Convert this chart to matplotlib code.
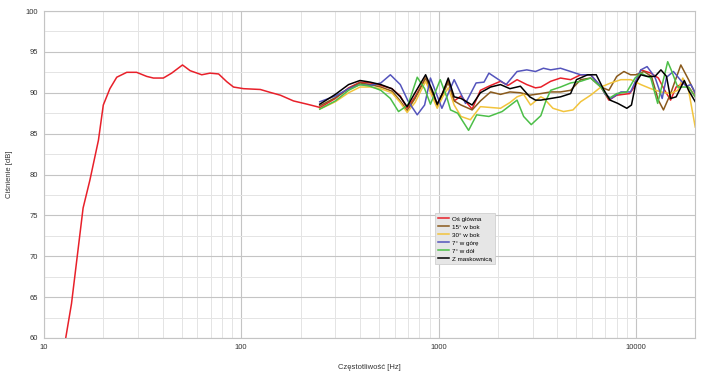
import matplotlib
matplotlib.use("Agg")
from matplotlib import pyplot as plt
from matplotlib.ticker import FixedLocator, NullFormatter
import numpy as np

# os glowna (red), full range
f_red = [12.9, 13.8, 15.8, 17.1, 18.9, 20.0, 21.6, 23.4, 26.3, 29.5, 33.2, 35.9, 40.3, 44.4,
         50.4, 55.1, 63.1, 69.5, 76.8, 84.5, 91.4, 102.8, 125, 140, 158, 184, 216, 251,
         300, 350, 400, 450, 510, 580, 640, 693, 760, 860, 930, 985, 1050, 1120, 1200, 1300,
         1480, 1630, 1800, 2060, 2250, 2500, 2800, 3100, 3300, 3700, 4150, 4670, 5250, 5900,
         6650, 7300, 8000, 9300, 10000, 10600, 11920, 13000, 14000, 15000, 16000, 17500,
         18800, 20000]
db_red = [60, 64.2, 75.9, 79.3, 84.2, 88.5, 90.5, 91.9, 92.5, 92.5, 92.0, 91.8, 91.8, 92.4,
          93.4, 92.7, 92.2, 92.4, 92.3, 91.35, 90.7, 90.5, 90.4, 90.05, 89.7, 89.0, 88.6, 88.2,
          89.3, 90.6, 91.3, 91.2, 90.9, 90.5, 89.6, 88.1, 89.5, 91.8, 90.0, 88.6, 90.0, 91.5,
          89.0, 89.6, 88.0, 90.3, 90.8, 91.4, 90.9, 91.6, 91.0, 90.6, 90.7, 91.4, 91.8, 91.6,
          92.2, 92.2, 90.7, 89.1, 89.7, 89.9, 91.0, 92.8, 92.4, 91.8, 90.3, 89.1, 90.7, 91.2,
          90.5, 89.5]

# 15 deg w bok (brown)
f_brown = [250, 300, 350, 400, 450, 510, 580, 640, 693, 760, 860, 930, 985, 1050, 1120, 1200,
           1300, 1480, 1630, 1835, 2060, 2300, 2600, 2900, 3300, 3700, 4150, 4670, 5250, 5900,
           6650, 7300, 8000, 8700, 9400, 10000, 11000, 12000, 13000, 13800, 15000, 16900,
           18500, 20000]
db_brown = [88.4, 89.4, 90.5, 91.2, 91.0, 90.7, 90.2, 89.0, 87.8, 89.3, 91.8, 90.0, 88.3, 89.8,
            91.3, 89.0, 88.5, 87.9, 89.0, 90.1, 89.8, 90.1, 90.0, 89.7, 89.9, 90.1, 90.1, 90.3,
            91.6, 91.8, 90.7, 90.3, 92.0, 92.6, 92.2, 92.2, 92.6, 92.0, 89.1, 87.9, 89.9, 93.4,
            91.6, 89.9]

# 30 deg w bok (yellow)
f_yellow = [250, 300, 350, 400, 450, 510, 580, 640, 693, 760, 860, 930, 985, 1050, 1120, 1200,
            1300, 1450, 1630, 2060, 2300, 2500, 2700, 2927, 3300, 3420, 3800, 4300, 4800, 5250,
            5900, 6650, 7467, 8400, 9440, 10600, 11900, 13400, 15000, 16300, 17300, 18500, 20000]
db_yellow = [88.0, 88.9, 90.0, 90.7, 90.7, 90.5, 90.0, 88.8, 87.6, 88.8, 91.4, 89.5, 88.1, 89.5,
             90.6, 88.5, 87.1, 86.7, 88.3, 88.1, 88.8, 89.5, 89.8, 88.5, 89.5, 89.3, 88.1, 87.7,
             87.9, 88.9, 89.7, 90.7, 91.2, 91.6, 91.6, 91.0, 90.5, 90.1, 89.9, 90.3, 91.8, 90.3,
             85.8]

# 7 deg w gore (blue)
f_blue = [250, 300, 350, 400, 450, 510, 570, 640, 700, 780, 850, 910, 1040, 1200, 1370, 1550,
          1700, 1800, 2200, 2500, 2800, 3100, 3400, 3700, 4150, 4670, 5250, 5900, 6650, 7000,
          7500, 8400, 9400, 10000, 10600, 11400, 12500, 13600, 14300, 15500, 16900, 18000,
          19000, 20000]
db_blue = [88.9, 89.6, 90.5, 91.0, 90.9, 91.2, 92.2, 91.0, 89.0, 87.3, 88.5, 91.8, 88.1, 91.6,
           88.7, 91.2, 91.3, 92.4, 91.0, 92.6, 92.8, 92.6, 93.0, 92.8, 93.0, 92.6, 92.2, 92.2,
           90.8, 89.8, 89.3, 90.1, 90.1, 91.5, 92.8, 93.2, 91.9, 89.3, 91.9, 92.6, 91.5, 90.8,
           91.0, 90.0]

# 7 deg w dol (green)
f_green = [250, 300, 350, 400, 450, 510, 570, 627, 700, 780, 850, 910, 1020, 1100, 1150, 1250,
           1420, 1560, 1800, 2100, 2500, 2700, 2950, 3300, 3500, 3700, 4150, 4670, 5250, 5900,
           6650, 7300, 8000, 9000, 9900, 10600, 11900, 12900, 13600, 14500, 15100, 16300,
           18500, 20000]
db_green = [88.0, 89.0, 90.3, 91.0, 90.8, 90.3, 89.3, 87.7, 88.5, 91.9, 90.5, 88.6, 91.6, 89.5,
            87.9, 87.5, 85.4, 87.3, 87.1, 87.7, 89.1, 87.1, 86.1, 87.2, 89.0, 90.3, 90.7, 91.2,
            91.4, 91.8, 90.7, 89.3, 89.9, 90.1, 91.8, 92.4, 91.8, 88.7, 91.0, 93.8, 92.8, 90.7,
            90.7, 89.5]

# z maskownica (black)
f_black = [250, 300, 350, 400, 450, 510, 580, 640, 693, 760, 860, 930, 985, 1050, 1120, 1200,
           1300, 1480, 1630, 1835, 2060, 2300, 2600, 2900, 3100, 3300, 3700, 4150, 4670, 5000,
           5700, 6300, 6900, 7400, 8100, 9000, 9500, 10000, 10600, 11400, 12500, 13400, 14300,
           15000, 16000, 17600, 18500, 20000]
db_black = [88.6, 89.8, 91.0, 91.5, 91.3, 91.0, 90.5, 89.5, 88.3, 90.0, 92.2, 90.3, 88.6, 90.0,
            91.8, 89.5, 89.3, 88.5, 90.0, 90.7, 91.0, 90.5, 90.8, 89.5, 89.1, 89.1, 89.3, 89.5,
            89.9, 91.6, 92.2, 92.2, 90.3, 89.1, 88.7, 88.1, 88.5, 91.2, 92.2, 92.0, 92.0, 92.8,
            92.0, 89.3, 89.5, 91.5, 90.3, 88.9]

series = [
    (f_red, db_red, "Oś główna", "#e8202a"),
    (f_brown, db_brown, "15° w bok", "#8a5a1c"),
    (f_yellow, db_yellow, "30° w bok", "#f2c43c"),
    (f_blue, db_blue, "7° w górę", "#5454bc"),
    (f_green, db_green, "7° w dół", "#4cbf48"),
    (f_black, db_black, "Z maskownicą", "#000000"),
]

plt.rcParams['font.family'] = ['Liberation Sans', 'DejaVu Sans']

fig = plt.figure(figsize=(7.08, 3.72), dpi=100)
ax = fig.add_axes([0.062, 0.0914, 0.920, 0.879])

for f, d, name, c in series:
    ax.plot(f, d, color=c, lw=1.1, label=name)

ax.set_xscale('log')
ax.set_xlim(10, 20000)
ax.set_ylim(60, 100)

ax.xaxis.set_major_locator(FixedLocator([10, 100, 1000, 10000]))
ax.set_xticklabels(['10', '100', '1000', '10000'])
minx = [m * 10**e for e in range(1, 5) for m in range(2, 10) if m * 10**e < 20000]
ax.xaxis.set_minor_locator(FixedLocator(minx))
ax.xaxis.set_minor_formatter(NullFormatter())
ax.yaxis.set_major_locator(FixedLocator(np.arange(60, 101, 5)))
ax.yaxis.set_minor_locator(FixedLocator(np.arange(62.5, 100, 5)))

ax.grid(which='major', color='#c4c4c4', lw=0.8)
ax.grid(which='minor', color='#e4e4e4', lw=0.7)
ax.set_axisbelow(True)
ax.tick_params(which='both', length=0, labelsize=5.5, colors='#333333', pad=4)
for s in ax.spines.values():
    s.set_color('#c4c4c4')
    s.set_linewidth(0.8)

ax.set_xlabel('Częstotliwość [Hz]', fontsize=5.5, color='#333333', labelpad=10)
ax.set_ylabel('Ciśnienie [dB]', fontsize=5.5, color='#333333', labelpad=9)

leg = ax.legend(loc='upper left', bbox_to_anchor=(0.600, 0.381), fontsize=4.5,
                handlelength=1.8, borderpad=0.45, labelspacing=0.42, handletextpad=0.5,
                borderaxespad=0, fancybox=False, framealpha=1)
leg.get_frame().set_facecolor('#e6e6e6')
leg.get_frame().set_edgecolor('#d0d0d0')
leg.get_frame().set_linewidth(0.6)

fig.savefig('out.png', dpi=100)
